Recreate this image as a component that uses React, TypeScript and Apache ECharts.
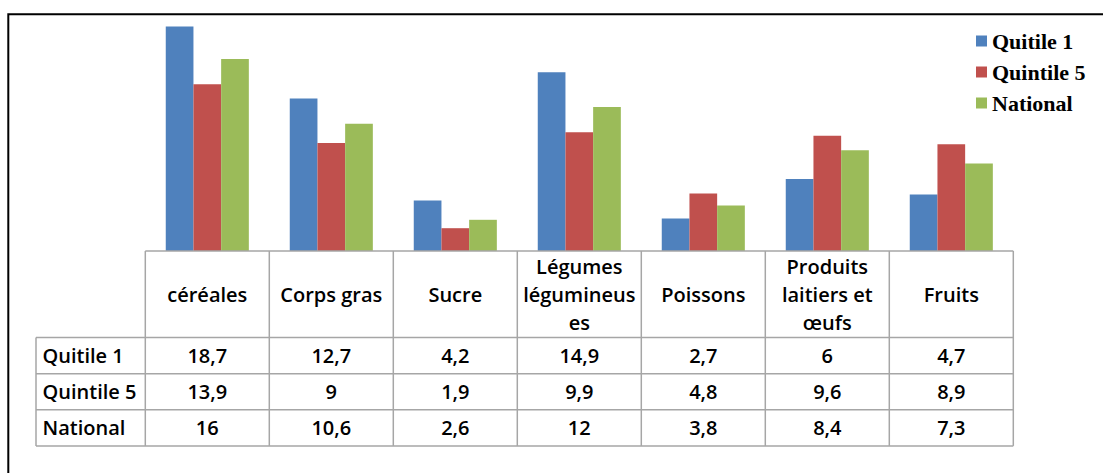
import React, { useEffect, useRef } from 'react';
import * as echarts from 'echarts';

const categories = ['céréales', 'Corps gras', 'Sucre', 'Légumes légumineuses', 'Poissons', 'Produits laitiers et œufs', 'Fruits'];
const headerLabels = ['céréales', 'Corps gras', 'Sucre', 'Légumes\nlégumineus\nes', 'Poissons', 'Produits\nlaitiers et\nœufs', 'Fruits'];
const seriesNames = ['Quitile 1', 'Quintile 5', 'National'];
const quitile1 = [18.7, 12.7, 4.2, 14.9, 2.7, 6, 4.7];
const quintile5 = [13.9, 9, 1.9, 9.9, 4.8, 9.6, 8.9];
const national = [16, 10.6, 2.6, 12, 3.8, 8.4, 7.3];
const seriesValues = [quitile1, quintile5, national];
const colors = ['#4F81BD', '#C0504D', '#9BBB59'];

const fmt = (v: number) => String(v).replace('.', ',');

export default function App() {
  const ref = useRef<HTMLDivElement>(null);
  useEffect(() => {
    if (!ref.current) return;
    const chart = echarts.init(ref.current, null, { renderer: 'svg' });
    chart.setOption({
      animation: false,
      backgroundColor: '#ffffff',
      legend: {
        orient: 'vertical',
        left: 971,
        top: 25,
        itemWidth: 11,
        itemHeight: 11,
        itemGap: 9,
        icon: 'rect',
        data: seriesNames,
        textStyle: { fontFamily: 'Liberation Serif', fontWeight: 'bold', fontSize: 22, color: '#000' },
      },
      grid: { left: 145.3, top: 11, width: 868, height: 240 },
      xAxis: { type: 'category', data: categories, show: false },
      yAxis: { type: 'value', min: 0, max: 20, show: false },
      series: seriesNames.map((n, i) => ({
        type: 'bar',
        name: n,
        data: seriesValues[i],
        barGap: '0%',
        barCategoryGap: '33%',
        itemStyle: { color: colors[i] },
      })),
    });

    const cx0 = chart.convertToPixel({ xAxisIndex: 0 }, 0) as number;
    const cx1 = chart.convertToPixel({ xAxisIndex: 0 }, 1) as number;
    const cw = cx1 - cx0;
    const tableLeft = cx0 - cw / 2;
    const tableRight = tableLeft + cw * categories.length;
    const yBase = chart.convertToPixel({ yAxisIndex: 0 }, 0) as number;
    const headerH = 86.6;
    const rowH = 36.1;
    const labelLeft = 36;
    const yHeaderBottom = yBase + headerH;
    const yBottom = yHeaderBottom + rowH * seriesNames.length;
    const lineStyle = { stroke: '#a6a6a6', lineWidth: 1.5 };
    const font = 'Open Sans';
    const fs = 20;
    const fw = 600;

    const elements: any[] = [];
    // outer frame
    elements.push({ type: 'polyline', shape: { points: [[8.3, 480], [8.3, 14.3], [1110, 14.3]] }, style: { stroke: '#000', lineWidth: 2, fill: null }, z: 100 });
    // horizontal lines
    elements.push({ type: 'line', shape: { x1: tableLeft, y1: yBase, x2: tableRight, y2: yBase }, style: lineStyle, z: 100 });
    for (let r = 0; r <= seriesNames.length; r++) {
      const y = yHeaderBottom + r * rowH;
      elements.push({ type: 'line', shape: { x1: labelLeft, y1: y, x2: tableRight, y2: y }, style: lineStyle, z: 100 });
    }
    // vertical lines
    elements.push({ type: 'line', shape: { x1: labelLeft, y1: yHeaderBottom, x2: labelLeft, y2: yBottom }, style: lineStyle, z: 100 });
    for (let c = 0; c <= categories.length; c++) {
      const x = tableLeft + c * cw;
      elements.push({ type: 'line', shape: { x1: x, y1: yBase, x2: x, y2: yBottom }, style: lineStyle, z: 100 });
    }
    // header texts
    headerLabels.forEach((h, c) => {
      elements.push({
        type: 'text',
        x: tableLeft + (c + 0.5) * cw,
        y: yBase + headerH / 2,
        style: { text: h, font: `${fw} ${fs}px "${font}"`, fill: '#000', align: 'center', verticalAlign: 'middle', lineHeight: 28 },
        z: 100,
      });
    });
    // row labels and values
    seriesNames.forEach((n, r) => {
      const yc = yHeaderBottom + (r + 0.5) * rowH;
      elements.push({
        type: 'text',
        x: labelLeft + 6.5,
        y: yc,
        style: { text: n, font: `${fw} ${fs}px "${font}"`, fill: '#000', align: 'left', verticalAlign: 'middle' },
        z: 100,
      });
      seriesValues[r].forEach((v, c) => {
        elements.push({
          type: 'text',
          x: tableLeft + (c + 0.5) * cw,
          y: yc,
          style: { text: fmt(v), font: `${fw} ${fs}px "${font}"`, fill: '#000', align: 'center', verticalAlign: 'middle' },
          z: 100,
        });
      });
    });
    chart.setOption({ graphic: { elements } });

    return () => chart.dispose();
  }, []);
  return <div ref={ref} style={{ position: 'absolute', left: 0, top: 0, width: 1103, height: 473 }} />;
}
